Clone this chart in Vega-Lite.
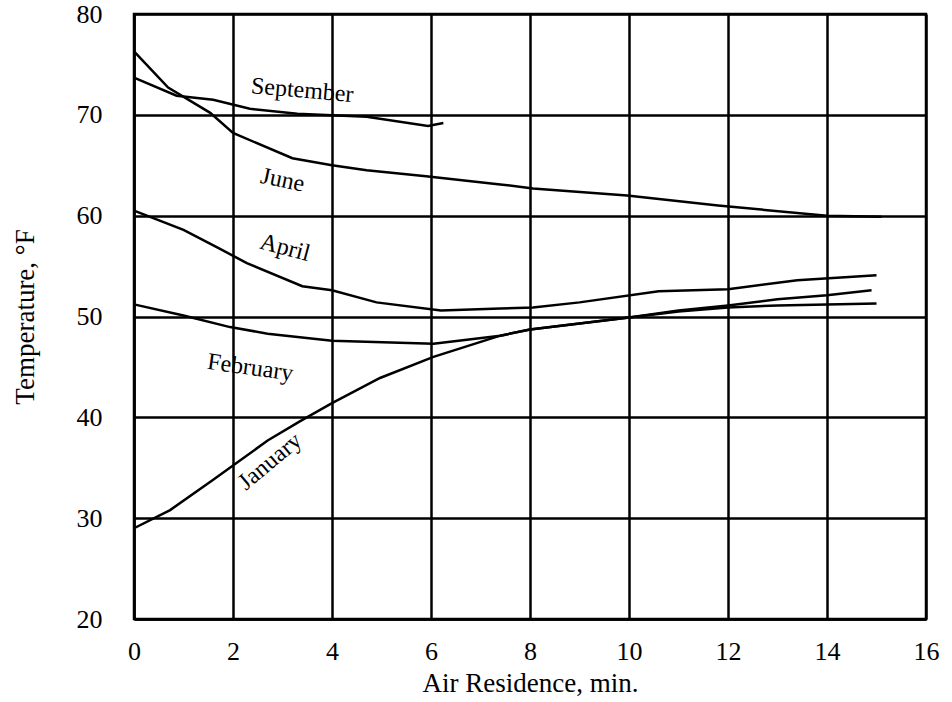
{
  "$schema": "https://vega.github.io/schema/vega-lite/v6.json",
  "width": 792,
  "height": 605,
  "autosize": {"type": "none"},
  "padding": {"left": 134, "top": 14, "right": 26, "bottom": 83},
  "background": "white",
  "config": {
    "view": {"stroke": "black", "strokeWidth": 2.5},
    "font": "Liberation Serif",
    "axis": {
      "labelFont": "Liberation Serif",
      "titleFont": "Liberation Serif",
      "labelFontSize": 26,
      "titleFontSize": 27,
      "titleFontWeight": "normal",
      "labelColor": "black",
      "titleColor": "black",
      "grid": true,
      "gridColor": "black",
      "gridWidth": 2.5,
      "gridOpacity": 1,
      "ticks": false,
      "domainColor": "black",
      "domainWidth": 2.5
    }
  },
  "datasets": {
    "curves": [
      {"month": "September", "t": 0, "temp": 73.7},
      {"month": "September", "t": 0.86, "temp": 71.9},
      {"month": "September", "t": 1.6, "temp": 71.5},
      {"month": "September", "t": 2.34, "temp": 70.6},
      {"month": "September", "t": 3.3, "temp": 70.1},
      {"month": "September", "t": 4.7, "temp": 69.8},
      {"month": "September", "t": 5.94, "temp": 68.9},
      {"month": "September", "t": 6.25, "temp": 69.2},
      {"month": "June", "t": 0, "temp": 76.3},
      {"month": "June", "t": 0.69, "temp": 72.7},
      {"month": "June", "t": 1.54, "temp": 70.2},
      {"month": "June", "t": 2.0, "temp": 68.2},
      {"month": "June", "t": 3.2, "temp": 65.7},
      {"month": "June", "t": 4.0, "temp": 65.0},
      {"month": "June", "t": 4.7, "temp": 64.5},
      {"month": "June", "t": 5.9, "temp": 63.9},
      {"month": "June", "t": 7.4, "temp": 63.1},
      {"month": "June", "t": 8.06, "temp": 62.7},
      {"month": "June", "t": 9.96, "temp": 62.0},
      {"month": "June", "t": 11.8, "temp": 61.0},
      {"month": "June", "t": 14.0, "temp": 60.0},
      {"month": "June", "t": 15.1, "temp": 59.9},
      {"month": "April", "t": 0, "temp": 60.5},
      {"month": "April", "t": 1.0, "temp": 58.6},
      {"month": "April", "t": 1.7, "temp": 56.8},
      {"month": "April", "t": 2.28, "temp": 55.3},
      {"month": "April", "t": 3.4, "temp": 53.0},
      {"month": "April", "t": 4.0, "temp": 52.6},
      {"month": "April", "t": 4.9, "temp": 51.4},
      {"month": "April", "t": 6.2, "temp": 50.6},
      {"month": "April", "t": 7.4, "temp": 50.8},
      {"month": "April", "t": 8.06, "temp": 50.9},
      {"month": "April", "t": 9.0, "temp": 51.4},
      {"month": "April", "t": 10.6, "temp": 52.5},
      {"month": "April", "t": 12.0, "temp": 52.7},
      {"month": "April", "t": 13.4, "temp": 53.6},
      {"month": "April", "t": 15.0, "temp": 54.1},
      {"month": "February", "t": 0, "temp": 51.2},
      {"month": "February", "t": 1.0, "temp": 50.1},
      {"month": "February", "t": 1.94, "temp": 48.95},
      {"month": "February", "t": 2.7, "temp": 48.3},
      {"month": "February", "t": 4.0, "temp": 47.6},
      {"month": "February", "t": 6.05, "temp": 47.3},
      {"month": "February", "t": 7.4, "temp": 48.1},
      {"month": "February", "t": 8.0, "temp": 48.7},
      {"month": "February", "t": 9.0, "temp": 49.3},
      {"month": "February", "t": 10.0, "temp": 49.9},
      {"month": "February", "t": 11.0, "temp": 50.5},
      {"month": "February", "t": 12.0, "temp": 50.9},
      {"month": "February", "t": 13.0, "temp": 51.1},
      {"month": "February", "t": 14.0, "temp": 51.2},
      {"month": "February", "t": 15.0, "temp": 51.3},
      {"month": "January", "t": 0, "temp": 29.0},
      {"month": "January", "t": 0.73, "temp": 30.8},
      {"month": "January", "t": 1.6, "temp": 33.8},
      {"month": "January", "t": 2.7, "temp": 37.7},
      {"month": "January", "t": 3.35, "temp": 39.6},
      {"month": "January", "t": 4.0, "temp": 41.4},
      {"month": "January", "t": 4.97, "temp": 43.9},
      {"month": "January", "t": 6.05, "temp": 46.0},
      {"month": "January", "t": 7.4, "temp": 48.1},
      {"month": "January", "t": 8.0, "temp": 48.7},
      {"month": "January", "t": 9.0, "temp": 49.3},
      {"month": "January", "t": 10.0, "temp": 49.9},
      {"month": "January", "t": 11.0, "temp": 50.6},
      {"month": "January", "t": 12.0, "temp": 51.1},
      {"month": "January", "t": 13.0, "temp": 51.7},
      {"month": "January", "t": 14.0, "temp": 52.1},
      {"month": "January", "t": 14.9, "temp": 52.6}
    ],
    "labels": [
      {"month": "September", "t": 3.4, "temp": 72.4},
      {"month": "June", "t": 3.0, "temp": 63.5},
      {"month": "April", "t": 3.05, "temp": 56.8},
      {"month": "February", "t": 2.35, "temp": 44.9},
      {"month": "January", "t": 2.75, "temp": 35.6}
    ]
  },
  "layer": [
    {
      "data": {"name": "curves"},
      "mark": {"type": "line", "color": "black", "strokeWidth": 2.5},
      "encoding": {
        "x": {
          "field": "t", "type": "quantitative",
          "scale": {"domain": [0, 16], "nice": false},
          "axis": {"values": [0, 2, 4, 6, 8, 10, 12, 14, 16], "title": "Air Residence, min.", "labelPadding": 19, "titlePadding": 6, "labelFlush": false}
        },
        "y": {
          "field": "temp", "type": "quantitative",
          "scale": {"domain": [20, 80], "nice": false, "zero": false},
          "axis": {"values": [20, 30, 40, 50, 60, 70, 80], "title": "Temperature, °F", "labelPadding": 32, "titlePadding": 37}
        },
        "detail": {"field": "month"},
        "order": {"field": "t", "type": "quantitative"}
      }
    },
    {
      "data": {"name": "labels"},
      "transform": [{"filter": "datum.month == 'September'"}],
      "mark": {"type": "text", "font": "Liberation Serif", "fontSize": 24, "angle": 5, "color": "black"},
      "encoding": {"x": {"field": "t", "type": "quantitative"}, "y": {"field": "temp", "type": "quantitative"}, "text": {"field": "month"}}
    },
    {
      "data": {"name": "labels"},
      "transform": [{"filter": "datum.month == 'June'"}],
      "mark": {"type": "text", "font": "Liberation Serif", "fontSize": 24, "angle": 12, "color": "black"},
      "encoding": {"x": {"field": "t", "type": "quantitative"}, "y": {"field": "temp", "type": "quantitative"}, "text": {"field": "month"}}
    },
    {
      "data": {"name": "labels"},
      "transform": [{"filter": "datum.month == 'April'"}],
      "mark": {"type": "text", "font": "Liberation Serif", "fontSize": 24, "angle": 15, "color": "black"},
      "encoding": {"x": {"field": "t", "type": "quantitative"}, "y": {"field": "temp", "type": "quantitative"}, "text": {"field": "month"}}
    },
    {
      "data": {"name": "labels"},
      "transform": [{"filter": "datum.month == 'February'"}],
      "mark": {"type": "text", "font": "Liberation Serif", "fontSize": 24, "angle": 8, "color": "black"},
      "encoding": {"x": {"field": "t", "type": "quantitative"}, "y": {"field": "temp", "type": "quantitative"}, "text": {"field": "month"}}
    },
    {
      "data": {"name": "labels"},
      "transform": [{"filter": "datum.month == 'January'"}],
      "mark": {"type": "text", "font": "Liberation Serif", "fontSize": 24, "angle": -40, "color": "black"},
      "encoding": {"x": {"field": "t", "type": "quantitative"}, "y": {"field": "temp", "type": "quantitative"}, "text": {"field": "month"}}
    }
  ]
}
